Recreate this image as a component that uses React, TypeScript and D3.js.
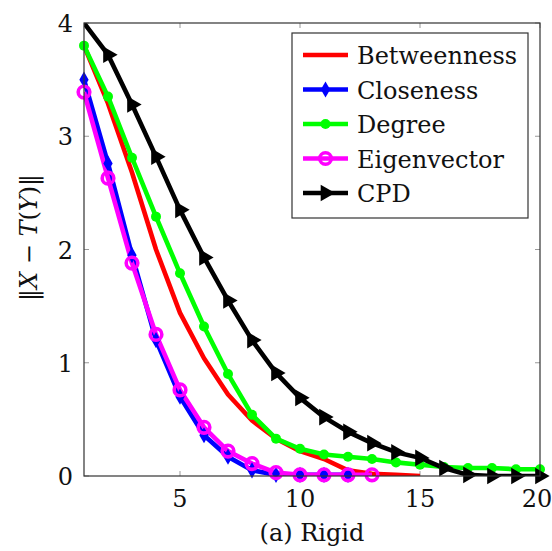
import React from "react";
import * as d3 from "d3";

// values (iteration -> ||X - T(Y)||)
const betweenness = [3.8, 3.29, 2.68, 2.0, 1.44, 1.04, 0.72, 0.49, 0.33, 0.22, 0.15, 0.05, 0.02, 0.01, 0.0];
const closeness = [3.5, 2.76, 1.95, 1.2, 0.7, 0.36, 0.17, 0.05, 0.01, 0.01, 0.01, 0.01];
const degree = [3.8, 3.35, 2.81, 2.29, 1.79, 1.32, 0.9, 0.54, 0.33, 0.24, 0.19, 0.17, 0.15, 0.12, 0.1, 0.08, 0.07, 0.07, 0.06, 0.06];
const eigenvector = [3.39, 2.63, 1.88, 1.25, 0.76, 0.43, 0.22, 0.11, 0.03, 0.01, 0.01, 0.01, 0.01];
const cpd = [4.0, 3.72, 3.28, 2.82, 2.35, 1.93, 1.55, 1.2, 0.91, 0.69, 0.52, 0.39, 0.29, 0.21, 0.16, 0.07, 0.01, 0.0, 0.0, 0.0];

const xTicks = [5, 10, 15, 20];
const yTicks = [0, 1, 2, 3, 4];

const series = [
  { name: "Betweenness", values: betweenness, color: "#ff0000", mark: "none" },
  { name: "Closeness", values: closeness, color: "#0000ff", mark: "diamond" },
  { name: "Degree", values: degree, color: "#00ff00", mark: "dot" },
  { name: "Eigenvector", values: eigenvector, color: "#ff00ff", mark: "ring" },
  { name: "CPD", values: cpd, color: "#000000", mark: "triangle" },
];

const W = 552;
const H = 551;
const margin = { top: 23, right: 12, bottom: 75, left: 84 };
const FONT = "DejaVu Serif";

const diamondPath = d3.symbol().type(d3.symbolDiamond).size(75)()!;
const trianglePath = d3.symbol().type(d3.symbolTriangle).size(120)()!;

function Marker({ kind, color, x, y }: { kind: string; color: string; x: number; y: number }) {
  if (kind === "diamond")
    return <path d={diamondPath} transform={`translate(${x},${y})`} fill={color} />;
  if (kind === "dot") return <circle cx={x} cy={y} r={5} fill={color} />;
  if (kind === "ring")
    return <circle cx={x} cy={y} r={5.8} fill="none" stroke={color} strokeWidth={3.6} />;
  if (kind === "triangle")
    return <path d={trianglePath} transform={`translate(${x},${y}) rotate(90)`} fill={color} />;
  return null;
}

export default function App() {
  const x = d3.scaleLinear().domain([1, 20]).range([margin.left, W - margin.right]);
  const y = d3.scaleLinear().domain([0, 4]).range([H - margin.bottom, margin.top]);

  const line = d3
    .line<number>()
    .x((_, i) => x(i + 1))
    .y((d) => y(d));

  const [x0, x1] = x.range();
  const [yb, yt] = y.range();
  const tickLen = 5;

  // legend box
  const lg = { x: 292, y: 33, w: 236, h: 185, row: 34.5 };

  return (
    <div style={{ position: "fixed", left: 0, top: 0 }}>
      <svg width={W} height={H} style={{ display: "block", background: "white" }} fontFamily={FONT}>
        <defs>
          <clipPath id="plotclip">
            <rect x={x0} y={yt} width={x1 - x0} height={yb - yt} />
          </clipPath>
        </defs>

        {/* ticks on all four sides, pointing inward */}
        <g stroke="#999" strokeWidth={1}>
          {xTicks.map((t) => (
            <g key={"xt" + t}>
              <line x1={x(t)} x2={x(t)} y1={yb} y2={yb - tickLen} />
              <line x1={x(t)} x2={x(t)} y1={yt} y2={yt + tickLen} />
            </g>
          ))}
          {yTicks.map((t) => (
            <g key={"yt" + t}>
              <line x1={x0} x2={x0 + tickLen} y1={y(t)} y2={y(t)} />
              <line x1={x1} x2={x1 - tickLen} y1={y(t)} y2={y(t)} />
            </g>
          ))}
        </g>

        {/* lines */}
        <g clipPath="url(#plotclip)" fill="none" strokeWidth={4.6} strokeLinejoin="round">
          {series.map((s) => (
            <path key={s.name} d={line(s.values)!} stroke={s.color} />
          ))}
        </g>

        {/* markers */}
        {series.map((s) => (
          <g key={s.name + "m"}>
            {s.values.map((v, i) =>
              v < 4 ? <Marker key={i} kind={s.mark} color={s.color} x={x(i + 1)} y={y(v)} /> : null
            )}
          </g>
        ))}

        {/* frame */}
        <rect x={x0} y={yt} width={x1 - x0} height={yb - yt} fill="none" stroke="#333" strokeWidth={1.2} />

        {/* tick labels */}
        <g fontSize={24} fill="#111">
          {xTicks.map((t) => (
            <text key={"xl" + t} x={t === 20 ? x(t) - 3 : x(t)} y={yb + 31} textAnchor="middle">
              {t}
            </text>
          ))}
          {yTicks.map((t) => (
            <text key={"yl" + t} x={x0 - 11} y={y(t) + 9} textAnchor="end">
              {t}
            </text>
          ))}
        </g>

        {/* axis titles */}
        <text x={(x0 + x1) / 2} y={541} textAnchor="middle" fontSize={24} fill="#111">
          (a) Rigid
        </text>
        <text
          transform={`translate(37,${(yt + yb) / 2 - 12}) rotate(-90)`}
          textAnchor="middle"
          fontSize={24}
          fill="#111"
        >
          ‖<tspan fontStyle="italic">X</tspan> − <tspan fontStyle="italic">T</tspan>(
          <tspan fontStyle="italic">Y</tspan>)‖
        </text>

        {/* legend */}
        <rect x={lg.x} y={lg.y} width={lg.w} height={lg.h} fill="white" stroke="#333" strokeWidth={1.2} />
        {series.map((s, i) => {
          const cy = lg.y + 22 + i * lg.row;
          return (
            <g key={s.name + "lg"}>
              <line x1={303} x2={348} y1={cy} y2={cy} stroke={s.color} strokeWidth={4.6} />
              <Marker kind={s.mark} color={s.color} x={325.5} y={cy} />
              <text x={357} y={cy + 9} fontSize={24} fill="#111">
                {s.name}
              </text>
            </g>
          );
        })}
      </svg>
    </div>
  );
}
